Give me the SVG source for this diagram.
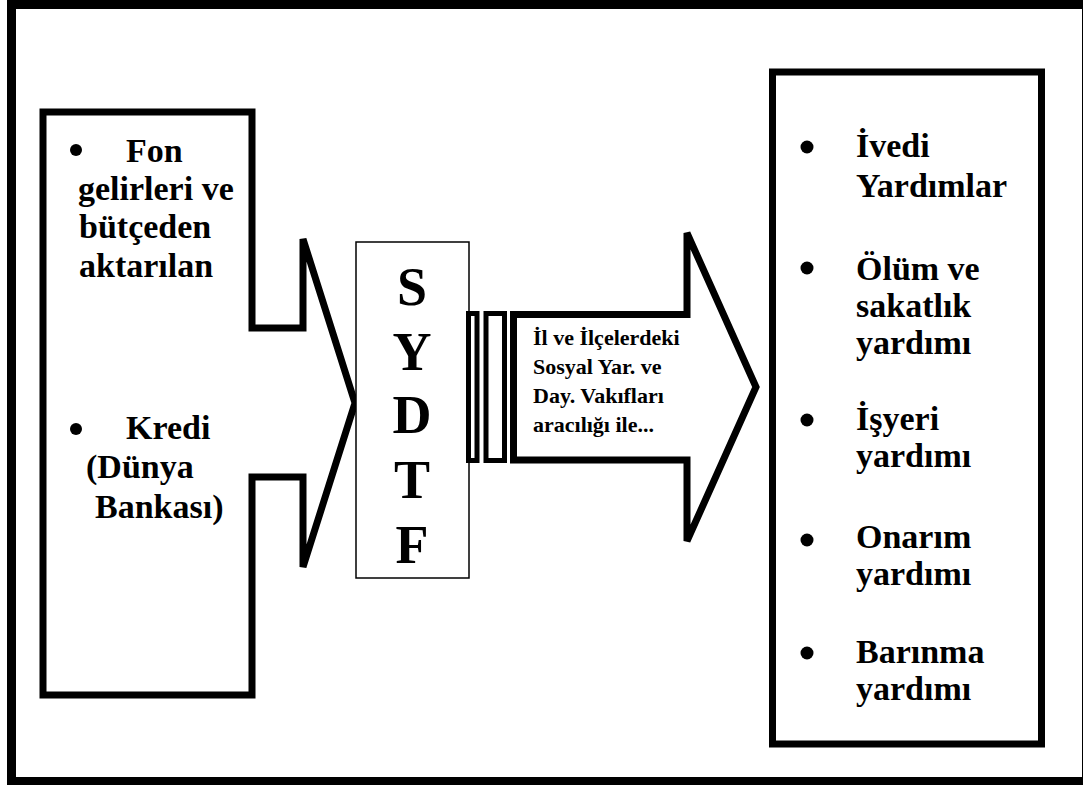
<svg xmlns="http://www.w3.org/2000/svg" width="1083" height="785" viewBox="0 0 1083 785">
  <style>
    .t { font-family: "Liberation Serif", "Times New Roman", serif; font-weight: bold; fill: #000; }
    .big { font-size: 34px; }
    .mid { font-size: 22px; }
    .huge { font-size: 54px; text-anchor: middle; }
    .thick { fill: #fff; stroke: #000; stroke-width: 7; stroke-linejoin: miter; }
  </style>
  <rect x="0" y="0" width="1083" height="785" fill="#fff"/>
  <g id="frame">
    <rect x="11.5" y="4.5" width="1075" height="777" fill="none" stroke="#000" stroke-width="9"/>
  </g>
  <g id="sources">
    <polygon class="thick" stroke-width="6" points="43,112 252,112 252,328 303,328 303,239 355,403 303,567 303,477 252,477 252,695 43,695"/>
    <circle cx="76" cy="150" r="6"/>
    <text class="t big" x="126" y="162">Fon</text>
    <text class="t big" x="78" y="200">gelirleri ve</text>
    <text class="t big" x="79" y="238">bütçeden</text>
    <text class="t big" x="79" y="277">aktarılan</text>
    <circle cx="76" cy="429" r="6"/>
    <text class="t big" x="126" y="439">Kredi</text>
    <text class="t big" x="86" y="478">(Dünya</text>
    <text class="t big" x="95" y="518">Bankası)</text>
  </g>
  <g id="sydtf">
    <rect x="356" y="242" width="113" height="336" fill="#fff" stroke="#000" stroke-width="1.5"/>
    <text class="t huge" x="412" y="305">S</text>
    <text class="t huge" x="412" y="370">Y</text>
    <text class="t huge" x="412" y="433">D</text>
    <text class="t huge" x="412" y="498">T</text>
    <text class="t huge" x="412" y="563">F</text>
  </g>
  <g id="connectors">
    <rect x="468.5" y="313.5" width="8.5" height="147" fill="#fff" stroke="#000" stroke-width="5"/>
    <rect x="486" y="313.5" width="18.5" height="147" fill="#fff" stroke="#000" stroke-width="5"/>
  </g>
  <g id="channel">
    <polygon class="thick" stroke-width="6" points="513.5,314.5 687,314.5 687,233 756,387 687,541 687,460 513.5,460"/>
    <text class="t mid" x="533" y="345">İl ve İlçelerdeki</text>
    <text class="t mid" x="533" y="374">Sosyal Yar. ve</text>
    <text class="t mid" x="533" y="403">Day. Vakıfları</text>
    <text class="t mid" x="533" y="432">aracılığı ile...</text>
  </g>
  <g id="aids">
    <rect x="772.5" y="72" width="269" height="672" fill="#fff" stroke="#000" stroke-width="7"/>
    <circle cx="807" cy="147" r="6.5"/>
    <text class="t big" x="856" y="157">İvedi</text>
    <text class="t big" x="856" y="197">Yardımlar</text>
    <circle cx="807" cy="268" r="6.5"/>
    <text class="t big" x="856" y="280">Ölüm ve</text>
    <text class="t big" x="856" y="317">sakatlık</text>
    <text class="t big" x="856" y="354">yardımı</text>
    <circle cx="807" cy="420" r="6.5"/>
    <text class="t big" x="856" y="430">İşyeri</text>
    <text class="t big" x="856" y="467">yardımı</text>
    <circle cx="807" cy="540" r="6.5"/>
    <text class="t big" x="856" y="548">Onarım</text>
    <text class="t big" x="856" y="585">yardımı</text>
    <circle cx="807" cy="653" r="6.5"/>
    <text class="t big" x="856" y="663">Barınma</text>
    <text class="t big" x="856" y="700">yardımı</text>
  </g>
</svg>
